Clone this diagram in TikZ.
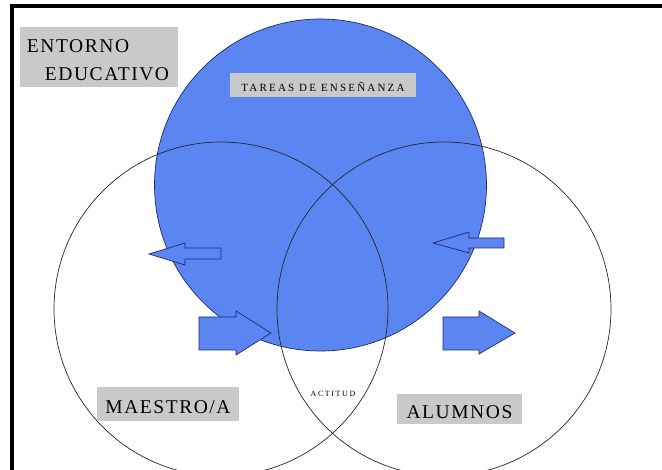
\documentclass[tikz,border=0pt]{standalone}
\usepackage{fontspec}
\setmainfont{Liberation Serif}
\usepackage{tikz}
\usetikzlibrary{positioning}
\definecolor{tblue}{HTML}{5B86F2}
\definecolor{navy}{HTML}{1C2B6E}
\definecolor{tagrey}{HTML}{C9C9C9}

\begin{document}
\begin{tikzpicture}[x=1pt,y=-1pt,
  ring/.style={circle,draw=black!85,line width=0.7pt,minimum size=334pt,inner sep=0pt},
  tag/.style={fill=tagrey,inner sep=0pt,text depth=0pt},
  big/.style={font=\fontsize{19.5}{28}\selectfont\addfontfeature{LetterSpace=8}},
  blk/.style={draw=navy,fill=tblue,line width=0.7pt,line join=miter}]

\useasboundingbox (0,0) rectangle (662,470);

\node[ring,fill=tblue,draw=navy,minimum size=332pt] (tareas) at (320.5,185) {};
\node[ring] (maestro) at (221,309) {};
\node[ring] (alumnos) at (444,309) {};

\draw[line width=4pt,line join=miter] (12,474) -- (12,6.3) -- (666,6.3);

\draw[blk] (221,248) -- (185,248) -- (185,243) -- (149,254) -- (185,265) -- (185,259) -- (221,259) -- cycle;
\draw[blk] (199,317) -- (236,317) -- (236,311) -- (271,333) -- (236,355) -- (236,350) -- (199,350) -- cycle;
\draw[blk] (504,238) -- (469,238) -- (469,232) -- (433,243) -- (469,253) -- (469,248) -- (504,248) -- cycle;
\draw[blk] (443,317) -- (479,317) -- (479,311) -- (515,333) -- (479,354) -- (479,350) -- (443,350) -- cycle;

\node[tag,big,text width=144pt,inner xsep=7pt,minimum height=60pt,align=left,
  text height=20pt,text depth=28pt] (entorno) at (99,57) {ENTORNO\\\hspace*{18pt}EDUCATIVO};
\node[tag,minimum width=186pt,minimum height=24pt,text height=14pt,
  font=\fontsize{11}{13}\selectfont\addfontfeature{LetterSpace=20}] (ensena) at (323,85) {TAREAS DE ENSEÑANZA};
\node[tag,big,minimum width=142pt,minimum height=34pt,text height=20pt] (maestra) at (168,404) {MAESTRO/A};
\node[tag,big,minimum width=125pt,minimum height=30pt,text height=20pt] (alumno) at (459.5,409) {ALUMNOS};
\node[inner sep=0pt,font=\fontsize{8}{9}\selectfont\addfontfeature{LetterSpace=20}] (actitud) at (333,393.5) {ACTITUD};
\end{tikzpicture}
\end{document}
